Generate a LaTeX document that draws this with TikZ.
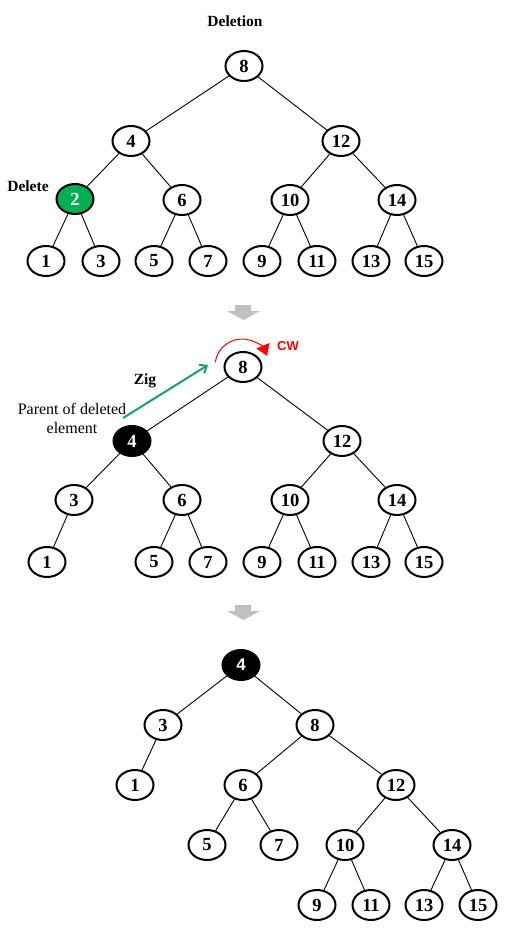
\documentclass[tikz,border=0pt]{standalone}
\usepackage{fontspec}
\setmainfont{Liberation Serif}
\setsansfont{Liberation Sans}
\usetikzlibrary{arrows.meta,shapes.geometric}
\definecolor{delgreen}{HTML}{00B050}
\definecolor{ziggreen}{HTML}{1AA35A}
\definecolor{cwred}{HTML}{FF0000}
\definecolor{arrgray}{HTML}{C0C0C0}
\tikzset{
  tnode/.style={ellipse, draw=black, line width=2pt, minimum width=37pt, minimum height=30pt, inner sep=0pt, font=\fontsize{18.5}{18.5}\selectfont\bfseries, fill=white},
  blacknode/.style={tnode, fill=black, text=white},
  greennode/.style={tnode, fill=delgreen, text=white},
  edge/.style={line width=0.9pt, black},
  lbl/.style={font=\fontsize{15.5}{16}\selectfont\bfseries},
  plain/.style={font=\fontsize{16}{19}\selectfont, align=center},
  grayarrow/.style={fill=arrgray, draw=none}
}
\begin{document}
\begin{tikzpicture}[x=1pt,y=-1pt]
\useasboundingbox (0,0) rectangle (508,944);
\fill[white] (0,0) rectangle (508,944);

% ---------- Top tree ----------
\node[lbl] (title) at (235,21) {Deletion};
\node[tnode] (a8) at (244,66) {8};
\node[tnode] (a4) at (131,141) {4};
\node[tnode] (a12) at (341,141) {12};
\node[greennode] (a2) at (75,199) {2};
\node[tnode] (a6) at (182,200) {6};
\node[tnode] (a10) at (290,200) {10};
\node[tnode] (a14) at (397,200) {14};
\node[tnode] (a1) at (46,261) {1};
\node[tnode] (a3) at (101,261) {3};
\node[tnode] (a5) at (154,261) {5};
\node[tnode] (a7) at (208,261) {7};
\node[tnode] (a9) at (262,261) {9};
\node[tnode] (a11) at (317,261) {11};
\node[tnode] (a13) at (371,261) {13};
\node[tnode] (a15) at (424,261) {15};
\node[lbl] (dellbl) at (28,186) {Delete};
\draw[edge] (a8) -- (a4); \draw[edge] (a8) -- (a12);
\draw[edge] (a4) -- (a2); \draw[edge] (a4) -- (a6);
\draw[edge] (a12) -- (a10); \draw[edge] (a12) -- (a14);
\draw[edge] (a2) -- (a1); \draw[edge] (a2) -- (a3);
\draw[edge] (a6) -- (a5); \draw[edge] (a6) -- (a7);
\draw[edge] (a10) -- (a9); \draw[edge] (a10) -- (a11);
\draw[edge] (a14) -- (a13); \draw[edge] (a14) -- (a15);

% gray arrow 1
\fill[grayarrow] (235,305) -- (251,305) -- (251,311) -- (260,311) -- (243.5,320) -- (227,311) -- (235,311) -- cycle;

% ---------- Middle tree ----------
\node[tnode] (b8) at (243,367) {8};
\node[blacknode] (b4) at (132,441) {4};
\node[tnode] (b12) at (342,441) {12};
\node[tnode] (b3) at (74,500) {3};
\node[tnode] (b6) at (182,500) {6};
\node[tnode] (b10) at (290,500) {10};
\node[tnode] (b14) at (397,500) {14};
\node[tnode] (b1) at (47,562) {1};
\node[tnode] (b5) at (154,562) {5};
\node[tnode] (b7) at (208,562) {7};
\node[tnode] (b9) at (262,562) {9};
\node[tnode] (b11) at (317,562) {11};
\node[tnode] (b13) at (371,562) {13};
\node[tnode] (b15) at (424,562) {15};
\draw[edge] (b8) -- (b4); \draw[edge] (b8) -- (b12);
\draw[edge] (b4) -- (b3); \draw[edge] (b4) -- (b6);
\draw[edge] (b3) -- (b1);
\draw[edge] (b6) -- (b5); \draw[edge] (b6) -- (b7);
\draw[edge] (b12) -- (b10); \draw[edge] (b12) -- (b14);
\draw[edge] (b10) -- (b9); \draw[edge] (b10) -- (b11);
\draw[edge] (b14) -- (b13); \draw[edge] (b14) -- (b15);

\node[plain] (parent) at (72,418) {Parent of deleted\\element};
\node[lbl] (zig) at (145,381) {Zig};
\coordinate (zigstart) at (123,418);
\coordinate (zigend) at (208,365);
\draw[ziggreen, line width=2pt, -{Straight Barb[length=6pt,width=10pt]}] (zigstart) -- (zigend);

\coordinate (cwc) at (242,366);
\draw[cwred, line width=1pt, -{Triangle[length=11pt,width=14pt]}] (cwc) ++(188:27) arc[start angle=188, end angle=338, radius=27];
\node[font=\fontsize{13}{13}\selectfont\sffamily\bfseries, text=cwred] (cw) at (288,346) {CW};

% gray arrow 2
\fill[grayarrow] (235,605) -- (251,605) -- (251,611) -- (260,611) -- (243.5,620) -- (227,611) -- (235,611) -- cycle;

% ---------- Bottom tree ----------
\node[blacknode, font=\fontsize{17}{17}\selectfont\sffamily\bfseries] (c4) at (241,665) {4};
\node[tnode] (c3) at (163,725) {3};
\node[tnode] (c8) at (315,725) {8};
\node[tnode] (c1) at (135,785) {1};
\node[tnode] (c6) at (243,785) {6};
\node[tnode] (c12) at (396,785) {12};
\node[tnode] (c5) at (207,845) {5};
\node[tnode] (c7) at (279,845) {7};
\node[tnode] (c10) at (345,845) {10};
\node[tnode] (c14) at (452,845) {14};
\node[tnode] (c9) at (317,905) {9};
\node[tnode] (c11) at (371,905) {11};
\node[tnode] (c13) at (424,905) {13};
\node[tnode] (c15) at (478,905) {15};
\draw[edge] (c4) -- (c3); \draw[edge] (c4) -- (c8);
\draw[edge] (c3) -- (c1);
\draw[edge] (c8) -- (c6); \draw[edge] (c8) -- (c12);
\draw[edge] (c6) -- (c5); \draw[edge] (c6) -- (c7);
\draw[edge] (c12) -- (c10); \draw[edge] (c12) -- (c14);
\draw[edge] (c10) -- (c9); \draw[edge] (c10) -- (c11);
\draw[edge] (c14) -- (c13); \draw[edge] (c14) -- (c15);
\end{tikzpicture}
\end{document}
